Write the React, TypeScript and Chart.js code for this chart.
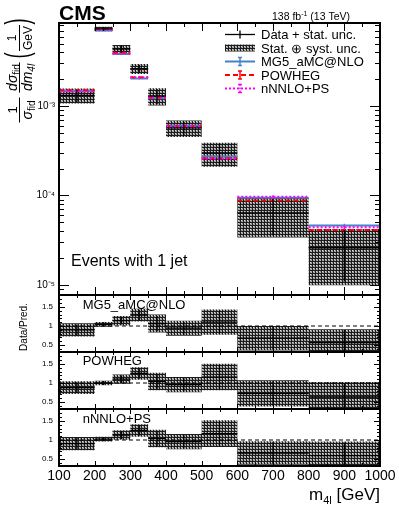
import { useEffect, useRef } from "react";
import { Chart, registerables } from "chart.js";

Chart.register(...registerables);

// ---------------- data ----------------
const binEdges = [100, 200, 250, 300, 350, 400, 500, 600, 800, 1000];
const dataValues = [1.32e-3, 7.3e-3, 4.35e-3, 2.62e-3, 1.3e-3, 5.7e-4, 3.0e-4, 6.4e-5, 2.6e-5];
const dataTotalRelUnc = [0.19, 0.06, 0.11, 0.13, 0.22, 0.21, 0.3, 0.47, 0.62];
const dataStatRelUnc = [0.16, 0.05, 0.09, 0.11, 0.19, 0.18, 0.27, 0.44, 0.58];
const mg5Values = [1.47e-3, 7.0e-3, 3.82e-3, 2.04e-3, 1.22e-3, 6.05e-4, 2.72e-4, 9.4e-5, 4.6e-5];
const mg5RelUnc = [0.02, 0.015, 0.02, 0.02, 0.025, 0.025, 0.03, 0.04, 0.05];
const powhegValues = [1.5e-3, 7.3e-3, 3.95e-3, 2.1e-3, 1.25e-3, 5.95e-4, 2.6e-4, 8.8e-5, 4.1e-5];
const powhegRelUnc = [0.02, 0.015, 0.02, 0.02, 0.025, 0.025, 0.03, 0.04, 0.05];
const nnloValues = [1.46e-3, 7.15e-3, 3.85e-3, 2.1e-3, 1.25e-3, 5.95e-4, 2.57e-4, 9.7e-5, 4.4e-5];
const nnloRelUnc = [0.02, 0.015, 0.02, 0.02, 0.025, 0.025, 0.03, 0.04, 0.05];
const xTickValues = [100, 200, 300, 400, 500, 600, 700, 800, 900, 1000];
const mainYTickValues = [1e-5, 1e-4, 1e-3];
const ratioYTickValues = [0.5, 1, 1.5];
const ratioPanelLabels = ["MG5_aMC@NLO", "POWHEG", "nNNLO+PS"];
const legendLabels = ["Data + stat. unc.", "Stat. \u2295 syst. unc.", "MG5_aMC@NLO", "POWHEG", "nNNLO+PS"];

// ---------------- style ----------------
const FONT = "'Liberation Sans', Arial, Helvetica, sans-serif";
const MG5_COLOR = "#4682c3";
const POWHEG_COLOR = "#ff0000";
const NNLO_COLOR = "#ff00ff";
const X_MIN = 100;
const X_MAX = 1000;
const X_MINOR_STEP = 50;
const X_MAJOR_STEP = 100;
const MAIN_Y_MIN = 7.7e-6;
const MAIN_Y_MAX = 8.5e-3;
const RATIO_Y_MIN = 0.32;
const RATIO_Y_MAX = 1.81;

const centers = binEdges.slice(0, -1).map((e, i) => (e + binEdges[i + 1]) / 2);

function segmentPoints(vals: number[]) {
  const pts: any[] = [];
  vals.forEach((v, i) => {
    pts.push({ x: binEdges[i], y: v }, { x: binEdges[i + 1], y: v }, { x: binEdges[i + 1], y: null });
  });
  return pts;
}
function errorBarPoints(vals: number[], rel: number[]) {
  const pts: any[] = [];
  vals.forEach((v, i) => {
    pts.push({ x: centers[i], y: v * (1 - rel[i]) }, { x: centers[i], y: v * (1 + rel[i]) }, { x: centers[i], y: null });
  });
  return pts;
}
function stepPoints(vals: number[]) {
  const pts: any[] = vals.map((v, i) => ({ x: binEdges[i], y: v }));
  pts.push({ x: binEdges[binEdges.length - 1], y: vals[vals.length - 1] });
  return pts;
}
function lineDs(data: any[], color: string, width: number, extra: any = {}) {
  return {
    type: "line",
    data,
    borderColor: color,
    borderWidth: width,
    pointRadius: 0,
    pointHoverRadius: 0,
    fill: false,
    spanGaps: false,
    tension: 0,
    ...extra,
  };
}
function makePattern(ctx: CanvasRenderingContext2D) {
  const c = document.createElement("canvas");
  c.width = 3;
  c.height = 3;
  const g = c.getContext("2d")!;
  g.fillStyle = "#8e8e8e";
  g.fillRect(0, 0, 3, 3);
  g.fillStyle = "#1c1c1c";
  g.fillRect(0, 0, 3, 1);
  g.fillRect(0, 0, 1, 3);
  g.fillStyle = "#dadada";
  g.fillRect(1, 1, 1, 1);
  g.fillStyle = "#b8b8b8";
  g.fillRect(2, 2, 1, 1);
  return ctx.createPattern(c, "repeat")!;
}

function font(size: number, italic = false, bold = false) {
  return `${italic ? "italic " : ""}${bold ? "bold " : ""}${size}px ${FONT}`;
}
type Piece = { t: string; s: number; it?: boolean; dy?: number };
function piecesWidth(ctx: CanvasRenderingContext2D, ps: Piece[]) {
  let w = 0;
  for (const p of ps) {
    ctx.font = font(p.s, p.it);
    w += ctx.measureText(p.t).width;
  }
  return w;
}
function drawPieces(ctx: CanvasRenderingContext2D, ps: Piece[], x: number, y: number) {
  let cx = x;
  ctx.textAlign = "left";
  ctx.textBaseline = "alphabetic";
  for (const p of ps) {
    ctx.font = font(p.s, p.it);
    ctx.fillText(p.t, cx, y + (p.dy || 0));
    cx += ctx.measureText(p.t).width;
  }
}
function drawFraction(
  ctx: CanvasRenderingContext2D,
  num: Piece[],
  den: Piece[],
  uc: number,
  numBase: number,
  denBase: number,
  barV: number,
  extra: number
) {
  const wn = piecesWidth(ctx, num);
  const wd = piecesWidth(ctx, den);
  drawPieces(ctx, num, uc - wn / 2, numBase);
  drawPieces(ctx, den, uc - wd / 2, denBase);
  const L = Math.max(wn, wd) + extra;
  ctx.beginPath();
  ctx.lineWidth = 1;
  ctx.moveTo(uc - L / 2, barV);
  ctx.lineTo(uc + L / 2, barV);
  ctx.stroke();
}

const SUP: Record<string, string> = {
  "-": "\u207B", "0": "\u2070", "1": "\u00B9", "2": "\u00B2", "3": "\u00B3",
  "4": "\u2074", "5": "\u2075", "6": "\u2076", "7": "\u2077", "8": "\u2078", "9": "\u2079",
};

function framePlugin(cfg: { yTicks: [number, number][]; xMajor: number; xMinor: number }) {
  return {
    id: "rootFrame",
    afterDatasetsDraw(chart: any) {
      const { ctx, chartArea: a } = chart;
      const xs = chart.scales.x;
      const ys = chart.scales.y;
      ctx.save();
      ctx.strokeStyle = "#000";
      ctx.lineWidth = 1;
      ctx.setLineDash([]);
      ctx.beginPath();
      for (let v = X_MIN; v <= X_MAX + 1e-9; v += X_MINOR_STEP) {
        const px = Math.round(xs.getPixelForValue(v)) + 0.5;
        const len = Math.abs(v % X_MAJOR_STEP) < 1e-9 ? cfg.xMajor : cfg.xMinor;
        ctx.moveTo(px, a.bottom);
        ctx.lineTo(px, a.bottom - len);
        ctx.moveTo(px, a.top);
        ctx.lineTo(px, a.top + len);
      }
      for (const [v, len] of cfg.yTicks) {
        const py = Math.round(ys.getPixelForValue(v)) + 0.5;
        if (py < a.top || py > a.bottom) continue;
        ctx.moveTo(a.left, py);
        ctx.lineTo(a.left + len, py);
        ctx.moveTo(a.right, py);
        ctx.lineTo(a.right - len, py);
      }
      ctx.stroke();
      ctx.lineWidth = 2;
      ctx.strokeRect(a.left, a.top, a.right - a.left, a.bottom - a.top);
      ctx.restore();
    },
  };
}

function baseOptions(padTop: number, padBottom: number, yScale: any, xScale: any) {
  return {
    responsive: false,
    animation: false,
    events: [],
    layout: { padding: { left: 0, right: 19, top: padTop, bottom: padBottom }, autoPadding: false },
    plugins: { legend: { display: false }, tooltip: { enabled: false } },
    scales: { x: xScale, y: yScale },
  };
}

const zeroPad = (s: any) => {
  s.paddingTop = 0;
  s.paddingBottom = 0;
  s.paddingLeft = 0;
  s.paddingRight = 0;
};

const hiddenX = { type: "linear", min: X_MIN, max: X_MAX, bounds: "data", display: false };
const visibleX = {
  type: "linear",
  min: X_MIN,
  max: X_MAX,
  bounds: "data",
  display: true,
  position: "bottom",
  grid: { display: false, drawTicks: false },
  border: { display: false },
  afterFit: (s: any) => {
    s.height = 52;
    zeroPad(s);
  },
  afterBuildTicks: (s: any) => {
    s.ticks = xTickValues.map((v) => ({ value: v }));
  },
  ticks: {
    autoSkip: false,
    maxRotation: 0,
    minRotation: 0,
    padding: 2,
    color: "#000",
    font: { family: FONT, size: 14 },
    callback: (v: any) => String(v),
  },
};
const mainY = {
  type: "logarithmic",
  min: MAIN_Y_MIN,
  max: MAIN_Y_MAX,
  bounds: "data",
  position: "left",
  afterFit: (s: any) => {
    s.width = 59;
    zeroPad(s);
  },
  afterBuildTicks: (s: any) => {
    s.ticks = mainYTickValues.map((v) => ({ value: v }));
  },
  grid: { display: false, drawTicks: false },
  border: { display: false },
  ticks: {
    padding: 4,
    color: "#000",
    font: { family: FONT, size: 10 },
    callback: (v: any) =>
      "10" +
      String(Math.round(Math.log10(Number(v))))
        .split("")
        .map((c) => SUP[c] || c)
        .join(""),
  },
};
const ratioY = {
  type: "linear",
  min: RATIO_Y_MIN,
  max: RATIO_Y_MAX,
  bounds: "data",
  position: "left",
  afterFit: (s: any) => {
    s.width = 59;
    zeroPad(s);
  },
  afterBuildTicks: (s: any) => {
    s.ticks = ratioYTickValues.map((v) => ({ value: v }));
  },
  grid: { display: false, drawTicks: false },
  border: { display: false },
  ticks: {
    padding: 6,
    color: "#000",
    font: { family: FONT, size: 8 },
    callback: (v: any) => String(v),
  },
};

function mainYTicks(): [number, number][] {
  const out: [number, number][] = [];
  for (let d = -6; d <= -2; d++) {
    for (let m = 1; m <= 9; m++) {
      const v = m * Math.pow(10, d);
      if (v >= MAIN_Y_MIN && v <= MAIN_Y_MAX) out.push([v, m === 1 ? 10 : 5]);
    }
  }
  return out;
}
function ratioYTicks(): [number, number][] {
  const out: [number, number][] = [];
  for (let k = 4; k <= 18; k++) {
    const v = k / 10;
    out.push([v, k % 5 === 0 ? 6 : 3]);
  }
  return out;
}

function mainDatasets(pattern: CanvasPattern) {
  return [
    lineDs(segmentPoints(dataValues), "#000", 1.3, { order: 0 }),
    lineDs(errorBarPoints(dataValues, dataStatRelUnc), "#000", 1.3, { order: 0 }),
    lineDs(segmentPoints(nnloValues), NNLO_COLOR, 2, { borderDash: [2, 2], order: 1 }),
    lineDs(errorBarPoints(nnloValues, nnloRelUnc), NNLO_COLOR, 1.5, { order: 1 }),
    lineDs(segmentPoints(powhegValues), POWHEG_COLOR, 2, { borderDash: [5, 3], order: 2 }),
    lineDs(errorBarPoints(powhegValues, powhegRelUnc), POWHEG_COLOR, 1.5, { order: 2 }),
    lineDs(segmentPoints(mg5Values), MG5_COLOR, 2, { order: 3 }),
    lineDs(errorBarPoints(mg5Values, mg5RelUnc), MG5_COLOR, 1.5, { order: 3 }),
    lineDs(stepPoints(dataValues.map((v, i) => v * (1 + dataTotalRelUnc[i]))), "rgba(0,0,0,0)", 0, {
      stepped: true,
      order: 10,
    }),
    lineDs(stepPoints(dataValues.map((v, i) => v * (1 - dataTotalRelUnc[i]))), "rgba(0,0,0,0)", 0, {
      stepped: true,
      order: 10,
      fill: "-1",
      backgroundColor: pattern,
    }),
  ];
}
function ratioDatasets(pred: number[], pattern: CanvasPattern) {
  const ratio = dataValues.map((v, i) => v / pred[i]);
  return [
    lineDs(segmentPoints(ratio), "#000", 1.3, { order: 0 }),
    lineDs(errorBarPoints(ratio, dataStatRelUnc), "#000", 1.3, { order: 0 }),
    lineDs(
      [
        { x: binEdges[0], y: 1 },
        { x: binEdges[binEdges.length - 1], y: 1 },
      ],
      "#000",
      1.2,
      { borderDash: [4, 3], order: 1 }
    ),
    lineDs(stepPoints(ratio.map((r, i) => r * (1 + dataTotalRelUnc[i]))), "rgba(0,0,0,0)", 0, {
      stepped: true,
      order: 10,
    }),
    lineDs(stepPoints(ratio.map((r, i) => r * (1 - dataTotalRelUnc[i]))), "rgba(0,0,0,0)", 0, {
      stepped: true,
      order: 10,
      fill: "-1",
      backgroundColor: pattern,
    }),
  ];
}

function mainTextPlugin(pattern: CanvasPattern) {
  return {
    id: "mainText",
    afterDraw(chart: any) {
      const ctx: CanvasRenderingContext2D = chart.ctx;
      ctx.save();
      ctx.fillStyle = "#000";
      ctx.strokeStyle = "#000";
      ctx.textBaseline = "alphabetic";
      ctx.textAlign = "left";
      // CMS
      ctx.font = font(21, false, true);
      ctx.fillText("CMS", 59, 20);
      // lumi
      const lumi: Piece[] = [
        { t: "138 fb", s: 10.5 },
        { t: "-1", s: 7, dy: -4 },
        { t: " (13 TeV)", s: 10.5 },
      ];
      drawPieces(ctx, lumi, 350 - piecesWidth(ctx, lumi), 20);
      // category label
      ctx.font = font(16);
      ctx.fillText("Events with 1 jet", 71, 265.5);

      // legend
      const lx0 = 225,
        lx1 = 255,
        lxm = 240,
        tx = 261;
      const rows = [34.5, 48, 61.5, 75, 88.5];
      ctx.font = font(13);
      ctx.fillStyle = "#000";
      legendLabels.forEach((t, i) => ctx.fillText(t, tx, rows[i] + 4.6));
      const seg = (x0: number, y0: number, x1: number, y1: number) => {
        ctx.beginPath();
        ctx.moveTo(x0, y0);
        ctx.lineTo(x1, y1);
        ctx.stroke();
      };
      // data
      ctx.lineWidth = 1.3;
      ctx.strokeStyle = "#000";
      ctx.setLineDash([]);
      seg(lx0, rows[0], lx1, rows[0]);
      seg(lxm, rows[0] - 4, lxm, rows[0] + 4);
      // stat+syst
      ctx.fillStyle = pattern;
      ctx.fillRect(lx0, rows[1] - 3.5, lx1 - lx0, 7);
      // theory entries
      const theo: [string, number[]][] = [
        [MG5_COLOR, []],
        [POWHEG_COLOR, [5, 3]],
        [NNLO_COLOR, [2, 2]],
      ];
      theo.forEach(([c, dash], k) => {
        const y = rows[2 + k];
        ctx.strokeStyle = c;
        ctx.lineWidth = 2;
        ctx.setLineDash(dash);
        seg(lx0, y, lx1, y);
        ctx.setLineDash(k === 2 ? [1.5, 1.5] : []);
        ctx.lineWidth = 1.5;
        seg(lxm, y - 4, lxm, y + 4);
        ctx.setLineDash([]);
        seg(lxm - 2, y - 4, lxm + 2, y - 4);
        seg(lxm - 2, y + 4, lxm + 2, y + 4);
      });

      // y axis title (rotated)
      ctx.fillStyle = "#000";
      ctx.strokeStyle = "#000";
      ctx.setLineDash([]);
      ctx.save();
      ctx.rotate(-Math.PI / 2);
      drawFraction(ctx, [{ t: "1", s: 13 }], [{ t: "\u03C3", s: 14, it: true }, { t: "fid", s: 10, dy: 3 }], -110, 17, 32, 19.5, 6);
      drawFraction(
        ctx,
        [{ t: "d", s: 14, it: true }, { t: "\u03C3", s: 14, it: true }, { t: "fid", s: 10, dy: 3 }],
        [{ t: "d", s: 14, it: true }, { t: "m", s: 14, it: true }, { t: "4l", s: 10, it: true, dy: 3 }],
        -77.5,
        17,
        32,
        19.5,
        3
      );
      drawFraction(ctx, [{ t: "1", s: 12 }], [{ t: "GeV", s: 12 }], -38, 16, 32, 19.5, 2);
      const paren = (t: string, u: number) => {
        ctx.save();
        ctx.translate(u, 28);
        ctx.scale(0.55, 1);
        ctx.font = font(33);
        ctx.textAlign = "center";
        ctx.fillText(t, 0, 0);
        ctx.restore();
      };
      paren("(", -55.5);
      paren(")", -21.5);
      ctx.restore();
      ctx.restore();
    },
  };
}

function ratioTextPlugin(label: string, baseline: number, withYTitle: boolean, withXTitle: boolean) {
  return {
    id: "ratioText",
    afterDraw(chart: any) {
      const ctx: CanvasRenderingContext2D = chart.ctx;
      ctx.save();
      ctx.fillStyle = "#000";
      ctx.textAlign = "left";
      ctx.textBaseline = "alphabetic";
      ctx.font = font(13);
      ctx.fillText(label, 82.7, baseline);
      if (withYTitle) {
        ctx.save();
        ctx.translate(26.5, 37);
        ctx.rotate(-Math.PI / 2);
        ctx.font = font(10);
        ctx.textAlign = "center";
        ctx.fillText("Data/Pred.", 0, 0);
        ctx.restore();
      }
      if (withXTitle) {
        const t: Piece[] = [
          { t: "m", s: 17 },
          { t: "4l", s: 11, dy: 4 },
          { t: " [GeV]", s: 17 },
        ];
        drawPieces(ctx, t, 380 - piecesWidth(ctx, t), 96);
      }
      ctx.restore();
    },
  };
}

export default function App() {
  const mainRef = useRef<HTMLCanvasElement | null>(null);
  const r1Ref = useRef<HTMLCanvasElement | null>(null);
  const r2Ref = useRef<HTMLCanvasElement | null>(null);
  const r3Ref = useRef<HTMLCanvasElement | null>(null);

  useEffect(() => {
    const charts: Chart[] = [];
    const mainCanvas = mainRef.current!;
    const pA = makePattern(mainCanvas.getContext("2d")!);
    charts.push(
      new Chart(mainCanvas, {
        type: "line",
        data: { datasets: mainDatasets(pA) as any },
        options: baseOptions(23, 2, mainY, hiddenX) as any,
        plugins: [framePlugin({ yTicks: mainYTicks(), xMajor: 8, xMinor: 4 }), mainTextPlugin(pA)] as any,
      })
    );
    const ratioCanvases = [r1Ref.current!, r2Ref.current!, r3Ref.current!];
    const preds = [mg5Values, powhegValues, nnloValues];
    const baselines = [18.5, 17.5, 18.7];
    ratioCanvases.forEach((cv, k) => {
      const p = makePattern(cv.getContext("2d")!);
      const last = k === 2;
      charts.push(
        new Chart(cv, {
          type: "line",
          data: { datasets: ratioDatasets(preds[k], p) as any },
          options: baseOptions(5, last ? 0 : 5, ratioY, last ? visibleX : hiddenX) as any,
          plugins: [
            framePlugin({ yTicks: ratioYTicks(), xMajor: 5, xMinor: 3 }),
            ratioTextPlugin(ratioPanelLabels[k], baselines[k], k === 0, last),
          ] as any,
        })
      );
    });
    return () => charts.forEach((c) => c.destroy());
  }, []);

  return (
    <div style={{ position: "absolute", left: 0, top: 0, width: 399, height: 518, background: "#fff", overflow: "hidden" }}>
      <canvas ref={mainRef} width={399} height={297} style={{ position: "absolute", left: 0, top: 0 }} />
      <canvas ref={r1Ref} width={399} height={67} style={{ position: "absolute", left: 0, top: 290 }} />
      <canvas ref={r2Ref} width={399} height={67} style={{ position: "absolute", left: 0, top: 347 }} />
      <canvas ref={r3Ref} width={399} height={114} style={{ position: "absolute", left: 0, top: 404 }} />
    </div>
  );
}
